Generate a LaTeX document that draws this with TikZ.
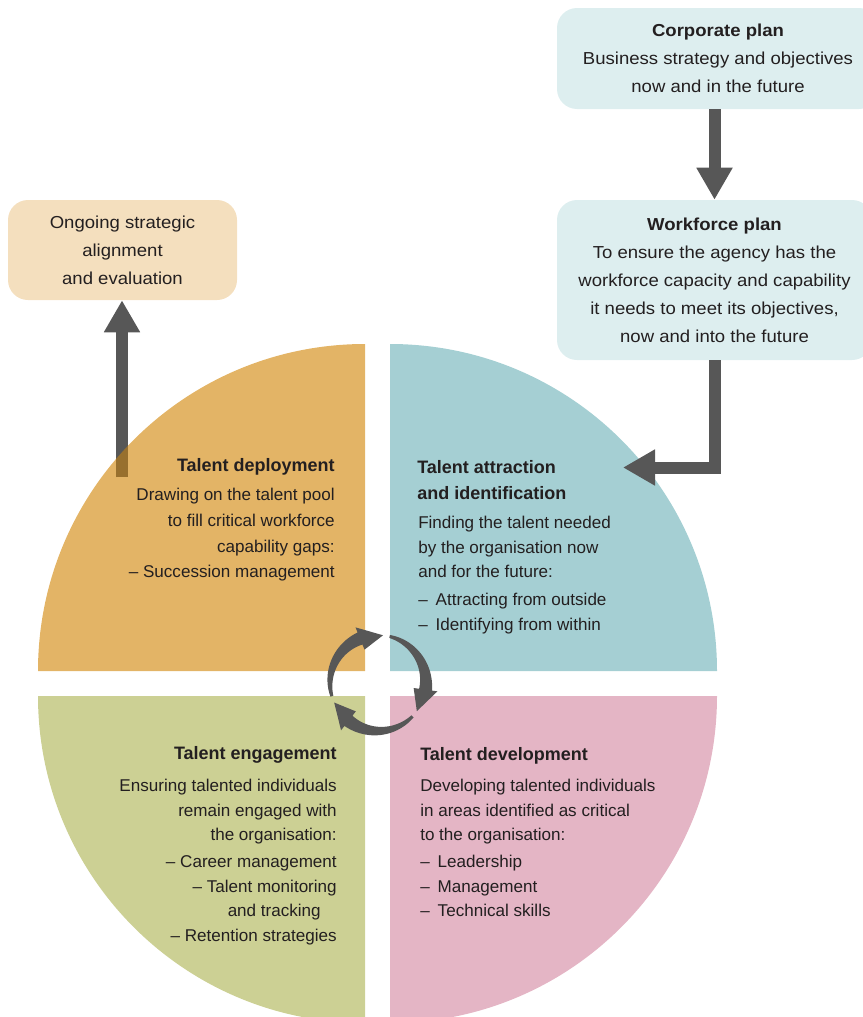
\documentclass[tikz,border=0pt]{standalone}
\usepackage{fontspec}
\setmainfont{Liberation Sans}
\newfontfamily\boxfont{Liberation Sans}[FakeStretch=1.07]
\usetikzlibrary{arrows.meta}
\definecolor{txt}{HTML}{231F20}
\definecolor{qorange}{HTML}{E3B466}
\definecolor{qteal}{HTML}{A5CFD3}
\definecolor{qgreen}{HTML}{CCD094}
\definecolor{qpink}{HTML}{E4B5C5}
\definecolor{boxblue}{HTML}{DDEEEF}
\definecolor{boxtan}{HTML}{F4DFBE}
\definecolor{arr}{HTML}{575757}
\definecolor{arrbrown}{HTML}{98702E}
\begin{document}
\begin{tikzpicture}[x=0.75pt,y=-0.75pt,
  box/.style={rounded corners=15pt, inner sep=0pt, align=center, text=txt,
    font=\boxfont\fontsize{13}{21}\selectfont},
  qbody/.style={font=\fontsize{12.8}{18.4}\selectfont, text=txt, inner sep=0pt},
  qtitle/.style={font=\fontsize{13.5}{19.5}\selectfont\bfseries, text=txt, inner sep=0pt},
  conn/.style={draw=arr, line width=9pt, line join=miter,
    -{Triangle[width=25.5pt,length=24pt]}}]
\useasboundingbox (0,0) rectangle (863,1017);
\clip (0,0) rectangle (863,1017);

% quadrants
\fill[qorange] (365,671) -- ++(-327,0) arc[start angle=180,end angle=270,radius=327] -- cycle;
\fill[qteal]   (390,671) -- ++(0,-327) arc[start angle=270,end angle=360,radius=327] -- cycle;
\fill[qpink]   (390,696) -- ++(327,0) arc[start angle=0,end angle=90,radius=327] -- cycle;
\fill[qgreen]  (365,696) -- ++(0,327) arc[start angle=90,end angle=180,radius=327] -- cycle;

% boxes
\node[box, fill=boxblue, minimum width=241.5pt, minimum height=75.75pt] (corp) at (718,58.5)
  {\textbf{Corporate plan}\\Business strategy and objectives\\now and in the future};
\node[box, fill=boxblue, minimum width=236.25pt, minimum height=120pt] (work) at (714.5,280)
  {\textbf{Workforce plan}\\To ensure the agency has the\\workforce capacity and capability\\it needs to meet its objectives,\\now and into the future};
\node[box, fill=boxtan, minimum width=171.75pt, minimum height=75pt] (ongo) at (122.5,250)
  {Ongoing strategic\\alignment\\and evaluation};

% connectors
\coordinate (atip) at (623,467.5);
\coordinate (upfoot) at (122,477);
\draw[conn] (work.north |- corp.south) -- (work.north);
\draw[conn] (work.south) -- (work.south |- atip) -- (atip);
\draw[conn] (upfoot) -- (upfoot |- ongo.south);
\begin{scope}
  \clip (365,671) -- ++(-327,0) arc[start angle=180,end angle=270,radius=327] -- cycle;
  \fill[arrbrown] (116,430) rectangle (128,477);
\end{scope}

% circular arrows
\foreach \a in {164,284,44}{
  \pgfmathsetmacro{\b}{\a+84}
  \pgfmathsetmacro{\c}{\a+112}
  \fill[arr] plot[domain=\a:\b, samples=25]
      ({378+(49.5+5*(\x-\a)/84)*cos(\x)}, {683+(49.5+5*(\x-\a)/84)*sin(\x)})
    -- ({378+60*cos(\b)}, {683+60*sin(\b)})
    -- ({378+48*cos(\c)}, {683+48*sin(\c)})
    -- ({378+36*cos(\b)}, {683+36*sin(\b)})
    -- plot[domain=\b:\a, samples=25]
      ({378+(46.5-5*(\x-\a)/84)*cos(\x)}, {683+(46.5-5*(\x-\a)/84)*sin(\x)})
    -- cycle;
}

% quadrant texts
\node[qtitle, anchor=north east] (dtitle) at (335,458) {Talent deployment};
\node[qbody, align=right, anchor=north east, font=\fontsize{12.8}{19.3}\selectfont] (dbody) at (335,488)
  {Drawing on the talent pool\\to fill critical workforce\\capability gaps:\\– Succession management};

\node[qtitle, align=left, anchor=north west] (atitle) at (417,460) {Talent attraction\\and identification};
\node[qbody, align=left, anchor=north west] (abody) at (418,516)
  {Finding the talent needed\\by the organisation now\\and for the future:\\[2.5pt]–\hspace{6pt}Attracting from outside\\–\hspace{6pt}Identifying from within};

\node[qtitle, anchor=north east] (etitle) at (337,746) {Talent engagement};
\node[qbody, align=right, anchor=north east] (ebody) at (337,779)
  {Ensuring talented individuals\\remain engaged with\\the organisation:\\[2pt]– Career management\\– Talent monitoring\\and tracking\kern12pt\\– Retention strategies};

\node[qtitle, anchor=north west] (vtitle) at (420,747) {Talent development};
\node[qbody, align=left, anchor=north west] (vbody) at (420,779)
  {Developing talented individuals\\in areas identified as critical\\to the organisation:\\[2pt]–\hspace{6pt}Leadership\\–\hspace{6pt}Management\\–\hspace{6pt}Technical skills};
\end{tikzpicture}
\end{document}
